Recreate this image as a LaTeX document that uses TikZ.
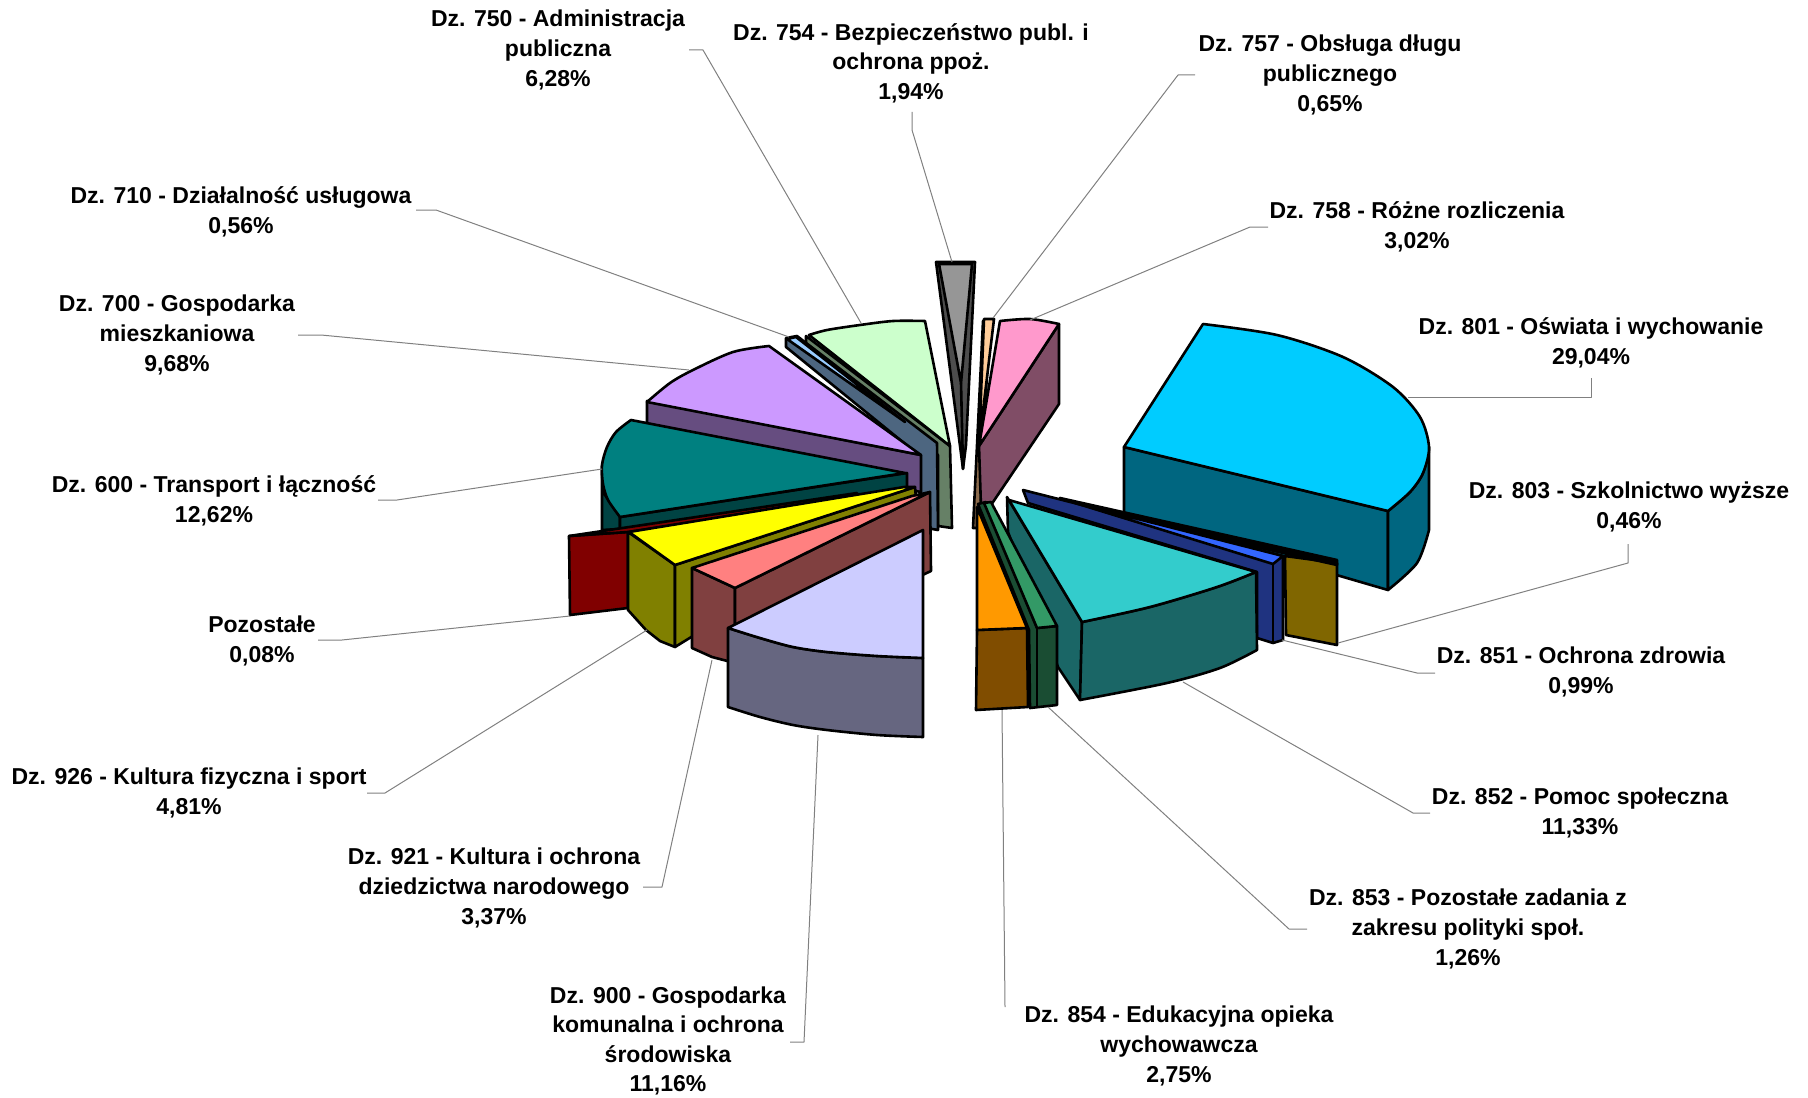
\documentclass[tikz,border=0pt]{standalone}
\usepackage{fontspec}
\setmainfont{Liberation Sans}
\definecolor{c754}{HTML}{969696}\definecolor{c754d}{HTML}{4D4D4D}
\definecolor{c757}{HTML}{FFCC99}\definecolor{c757d}{HTML}{8C6B4D}
\definecolor{c758}{HTML}{FF99CC}\definecolor{c758d}{HTML}{804D66}
\definecolor{c750}{HTML}{CCFFCC}\definecolor{c750d}{HTML}{668066}
\definecolor{c710}{HTML}{99CCFF}\definecolor{c710d}{HTML}{4D6680}
\definecolor{c700}{HTML}{CC99FF}\definecolor{c700d}{HTML}{664D80}
\definecolor{c801}{HTML}{00CCFF}\definecolor{c801d}{HTML}{006680}
\definecolor{c600}{HTML}{008080}\definecolor{c600d}{HTML}{004343}
\definecolor{c803}{HTML}{806600}
\definecolor{c851}{HTML}{3366FF}\definecolor{c851d}{HTML}{1F3380}
\definecolor{cpoz}{HTML}{800000}
\definecolor{c926}{HTML}{FFFF00}\definecolor{c926d}{HTML}{808000}
\definecolor{c921}{HTML}{FF8080}\definecolor{c921d}{HTML}{804040}
\definecolor{c852}{HTML}{33CCCC}\definecolor{c852d}{HTML}{1A6666}
\definecolor{c853}{HTML}{339966}\definecolor{c853d}{HTML}{1A4D33}
\definecolor{c854}{HTML}{FF9900}\definecolor{c854d}{HTML}{804D00}
\definecolor{c900}{HTML}{CCCCFF}\definecolor{c900d}{HTML}{666680}
\begin{document}
\begin{tikzpicture}[x=0.5pt,y=-0.5pt,line join=round,
face/.style={draw=black,line width=1.3pt},
leader/.style={draw=black!50,line width=0.5pt},
lbl/.style={align=center,inner sep=0pt,font=\bfseries\fontsize{11.5}{14.8}\selectfont}]
\useasboundingbox (0,0) rectangle (1808,1097);

\filldraw[face,fill=c754d] (936,262) -- (975,262) -- (966,445) -- (963,469) -- cycle;
\filldraw[face,fill=c754] (939,264) -- (972,264) -- (961,383) -- cycle;
\draw[face] (961,383) -- (963,469);

\filldraw[face,fill=c757d] (983,321) -- (989,326) -- (980,528) -- (973,528) -- cycle;
\filldraw[face,fill=c757] (984,319) -- (994,319) -- (979,444) -- cycle;

\filldraw[face,fill=c758d] (979,446) -- (1059,324) -- (1059,404) -- (989,508) -- (981,508) -- cycle;
\filldraw[face,fill=c758] (979,446) -- plot[smooth] coordinates {(1000,321) (1030,319) (1059,324)} -- cycle;

\filldraw[face,fill=c750d] (806,336) -- (950,446) -- (952,528) -- (938,526) -- (938,455) -- (806,344) -- cycle;
\filldraw[face,fill=c750] (950,446) -- plot[smooth] coordinates {(809,335) (827,330) (860,325) (893,321) (925,321)} -- cycle;

\filldraw[face,fill=c710d] (786,338) -- (797,336) -- (937,443) -- (938,530) -- (921,527) -- (920,456) -- (786,347) -- cycle;
\filldraw[face,fill=c710] (787,339) -- (796,337) -- (905,422) -- cycle;

\filldraw[face,fill=c700d] (647,401) -- (921,455) -- (921,492) -- (905,489) -- (647,425) -- cycle;
\filldraw[face,fill=c700] (921,455) -- plot[smooth] coordinates {(647,402) (670,383) (693,370) (733,352) (769,346)} -- cycle;

\filldraw[face,fill=c801d] (1124,447) -- (1388,511) -- (1388,590) -- (1124,513) -- cycle;
\filldraw[face,fill=c801d] plot[smooth] coordinates {(1388,511) (1410,492) (1423,473) (1429,447)} -- (1429,530) -- plot[smooth] coordinates {(1429,530) (1417,563) (1388,590)} -- cycle;
\filldraw[face,fill=c801] (1124,447) -- plot[smooth] coordinates {(1203,324) (1277,335) (1343,357) (1393,387) (1420,417) (1429,447) (1423,473) (1410,492) (1388,511)} -- cycle;

\filldraw[face,fill=c600d] (602,466) -- (602,530) -- (620,529) -- (620,517) -- (605,495) -- cycle;
\filldraw[face,fill=c600d] (620,517) -- (907,473) -- (907,489) -- (620,529) -- cycle;
\filldraw[face,fill=c600] (905,473) -- plot[smooth] coordinates {(631,420) (616,432) (607,447) (602,465) (603,484) (608,500) (620,517)} -- cycle;

\filldraw[face,fill=c803] (1285,556) -- (1337,563) -- (1337,645) -- (1286,635) -- cycle;
\filldraw[face,fill=black] (1060,498) -- (1337,560) -- (1337,565) -- (1060,503) -- cycle;

\filldraw[face,fill=c851d] (1023,490) -- (1283,556) -- (1283,640) -- (1273,643) -- (1257,638) -- (1257,572) -- (1028,503) -- cycle;
\filldraw[face,fill=c851] (1075,503) -- (1283,556) -- (1273,564) -- cycle;
\draw[face] (1273,564) -- (1273,643);

\filldraw[face,fill=cpoz] (569,536) -- (628,532) -- (628,608) -- (570,615) -- cycle;
\filldraw[face,fill=cpoz] (569,536) -- (857,493) -- (858,498) -- (628,532) -- cycle;

\filldraw[face,fill=c926d] (628,532) -- (675,565) -- (675,647) -- (660,641) -- (646,630) -- (628,610) -- cycle;
\filldraw[face,fill=c926d] (675,565) -- (915,487) -- (916,499) -- (675,647) -- cycle;
\filldraw[face,fill=c926] (629,532) -- (675,565) -- (915,487) -- (904,487) -- cycle;

\filldraw[face,fill=c921d] (692,568) -- (735,588) -- (735,663) -- (712,657) -- (692,648) -- cycle;
\filldraw[face,fill=c921d] (735,588) -- (930,492) -- (931,571) -- (735,663) -- cycle;
\filldraw[face,fill=c921] (692,568) -- (735,588) -- (930,492) -- (912,496) -- cycle;

\filldraw[face,fill=c852d] (1007,497) -- (1082,622) -- (1080,700) -- (1058,667) -- (1008,532) -- cycle;
\filldraw[face,fill=c852d] plot[smooth] coordinates {(1082,622) (1150,607) (1217,587) (1256,572)} -- (1257,650) -- plot[smooth] coordinates {(1257,650) (1220,668) (1167,683) (1080,700)} -- cycle;
\filldraw[face,fill=c852] (1009,500) -- plot[smooth] coordinates {(1256,572) (1217,587) (1150,607) (1082,622)} -- cycle;

\filldraw[face,fill=c853d] (978,504) -- (986,502) -- (1037,628) -- (1057,626) -- (1057,705) -- (1030,708) -- (1029,630) -- cycle;
\filldraw[face,fill=c853] (984,503) -- (991,502) -- (1057,626) -- (1037,628) -- cycle;
\draw[face] (1037,628) -- (1037,707);

\filldraw[face,fill=c854d] (977,630) -- (1027,628) -- (1028,707) -- (976,710) -- cycle;
\filldraw[face,fill=c854] (977,507) -- (1027,628) -- (977,630) -- cycle;

\filldraw[face,fill=c900d] plot[smooth] coordinates {(728,628) (760,638) (793,647) (827,652) (877,656) (923,658)} -- (923,737) -- plot[smooth] coordinates {(923,737) (877,735) (827,730) (793,725) (760,717) (728,707)} -- cycle;
\filldraw[face,fill=c900] (923,530) -- plot[smooth] coordinates {(728,628) (760,638) (793,647) (827,652) (877,656) (923,658)} -- cycle;

\draw (558,50) node[lbl] (l750) {Dz. 750 - Administracja\\publiczna\\6,28\%};
\draw (911,63) node[lbl] (l754) {Dz. 754 - Bezpieczeństwo publ. i\\ochrona ppoż.\\1,94\%};
\draw (1330,75) node[lbl] (l757) {Dz. 757 - Obsługa długu\\publicznego\\0,65\%};
\draw (1417,227) node[lbl] (l758) {Dz. 758 - Różne rozliczenia\\3,02\%};
\draw (1591,343) node[lbl] (l801) {Dz. 801 - Oświata i wychowanie\\29,04\%};
\draw (1629,507) node[lbl] (l803) {Dz. 803 - Szkolnictwo wyższe\\0,46\%};
\draw (1581,672) node[lbl] (l851) {Dz. 851 - Ochrona zdrowia\\0,99\%};
\draw (1580,813) node[lbl] (l852) {Dz. 852 - Pomoc społeczna\\11,33\%};
\draw (1468,929) node[lbl] (l853) {Dz. 853 - Pozostałe zadania z\\zakresu polityki społ.\\1,26\%};
\draw (1179,1046) node[lbl] (l854) {Dz. 854 - Edukacyjna opieka\\wychowawcza\\2,75\%};
\draw (668,1041) node[lbl] (l900) {Dz. 900 - Gospodarka\\komunalna i ochrona\\środowiska\\11,16\%};
\draw (494,888) node[lbl] (l921) {Dz. 921 - Kultura i ochrona\\dziedzictwa narodowego\\3,37\%};
\draw (189,793) node[lbl] (l926) {Dz. 926 - Kultura fizyczna i sport\\4,81\%};
\draw (262,641) node[lbl] (lpoz) {Pozostałe\\0,08\%};
\draw (214,501) node[lbl] (l600) {Dz. 600 - Transport i łączność\\12,62\%};
\draw (177,335) node[lbl] (l700) {Dz. 700 - Gospodarka\\mieszkaniowa\\9,68\%};
\draw (241,212) node[lbl] (l710) {Dz. 710 - Działalność usługowa\\0,56\%};

\coordinate (s750) at (689,50);   \coordinate (t750) at (861,323);
\coordinate (s754) at (912,112);  \coordinate (t754) at (952,262);
\coordinate (s757) at (1195,75);  \coordinate (t757) at (993,318);
\coordinate (s758) at (1268,227); \coordinate (t758) at (1030,320);
\coordinate (s801) at (1591,378); \coordinate (t801) at (1408,397);
\coordinate (s803) at (1628,544); \coordinate (t803) at (1338,643);
\coordinate (s851) at (1435,673); \coordinate (t851) at (1282,640);
\coordinate (s852) at (1430,813); \coordinate (t852) at (1183,682);
\coordinate (s853) at (1307,929); \coordinate (t853) at (1048,707);
\coordinate (s854) at (1005,1007); \coordinate (t854) at (1002,710);
\coordinate (s900) at (790,1042); \coordinate (t900) at (818,735);
\coordinate (s921) at (643,887);  \coordinate (t921) at (712,660);
\coordinate (s926) at (367,793);  \coordinate (t926) at (647,630);
\coordinate (spoz) at (318,640);  \coordinate (tpoz) at (570,616);
\coordinate (s600) at (378,500);  \coordinate (t600) at (602,469);
\coordinate (s700) at (298,335);  \coordinate (t700) at (689,370);
\coordinate (s710) at (416,210);  \coordinate (t710) at (789,337);

\draw[leader] (s750) -- ++(14,0) -- (t750);
\draw[leader] (s754) -- ++(0,18) -- (t754);
\draw[leader] (s757) -- ++(-17,0) -- (t757);
\draw[leader] (s758) -- ++(-18,0) -- (t758);
\draw[leader] (s801) -- ++(0,19) -- (t801);
\draw[leader] (s803) -- ++(0,19) -- (t803);
\draw[leader] (s851) -- ++(-18,0) -- (t851);
\draw[leader] (s852) -- ++(-17,0) -- (t852);
\draw[leader] (s853) -- ++(-18,0) -- (t853);
\draw[leader] (s854) -- (t854);
\draw[leader] (s900) -- ++(14,0) -- (t900);
\draw[leader] (s921) -- ++(19,0) -- (t921);
\draw[leader] (s926) -- ++(18,0) -- (t926);
\draw[leader] (spoz) -- ++(24,0) -- (tpoz);
\draw[leader] (s600) -- ++(19,0) -- (t600);
\draw[leader] (s700) -- ++(23,0) -- (t700);
\draw[leader] (s710) -- ++(20,0) -- (t710);
\end{tikzpicture}
\end{document}
